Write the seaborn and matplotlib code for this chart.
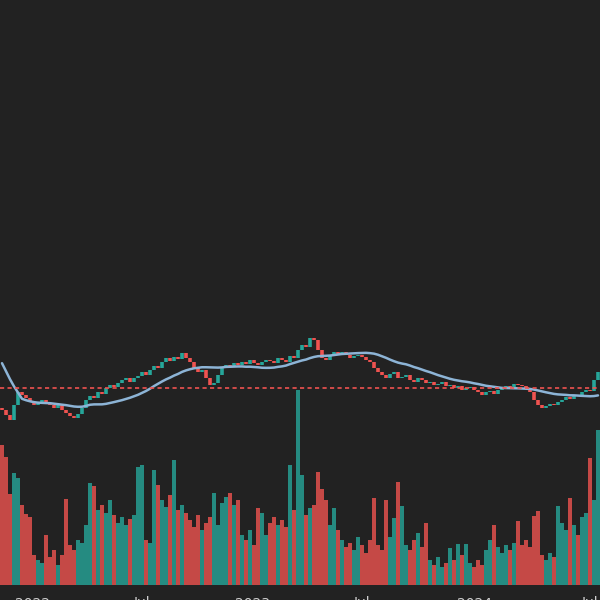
import matplotlib
matplotlib.use("Agg")
import matplotlib.pyplot as plt
import numpy as np
import pandas as pd
import seaborn as sns

# closes before the visible window (feed the moving average only)
PRE_CLOSE = [345, 340, 338, 332, 330, 230, 220, 212, 208, 205,
             200, 198, 202, 205, 200, 196, 198, 195, 192]

CLOSE = [
    190, 185, 180, 195, 208, 205, 202, 198, 195, 198,
    200, 197, 195, 192, 195, 190, 187, 184, 182, 186,
    192, 200, 204, 202, 208, 206, 212, 215, 213, 217,
    220, 222, 218, 222, 224, 228, 225, 230, 234, 232,
    238, 242, 239, 243, 241, 247, 242, 238, 232, 228,
    230, 222, 215, 217, 225, 232, 235, 233, 237, 235,
    238, 236, 240, 237, 235, 238, 240, 239, 237, 242,
    240, 238, 244, 242, 250, 255, 253, 262, 260, 250,
    242, 240, 245, 248, 245, 248, 245, 242, 244, 245,
    243, 240, 238, 232, 228, 225, 222, 226, 228, 222,
    223, 225, 220, 218, 222, 220, 217, 218, 215, 216,
    218, 214, 215, 212, 214, 210, 212, 213, 210, 208,
    205, 208, 209, 206, 210, 212, 214, 213, 216, 215,
    214, 212, 208, 200, 195, 192, 194, 196, 195, 198,
    200, 203, 201, 205, 204, 208, 210, 209, 220, 228,
]

VOLUME = [
    140, 128, 91, 112, 107, 80, 71, 68, 30, 25,
    22, 50, 28, 35, 20, 30, 86, 40, 35, 45,
    42, 60, 102, 99, 75, 80, 72, 85, 70, 62,
    68, 60, 66, 70, 118, 120, 45, 42, 115, 100,
    85, 78, 90, 125, 75, 80, 72, 65, 58, 70,
    55, 62, 68, 92, 60, 82, 88, 92, 80, 85,
    50, 45, 55, 40, 77, 72, 50, 62, 68, 60,
    65, 58, 120, 75, 195, 110, 70, 77, 80, 113,
    96, 85, 60, 77, 55, 45, 38, 42, 35, 48,
    40, 32, 45, 87, 40, 35, 85, 48, 67, 103,
    79, 40, 35, 45, 52, 38, 62, 25, 20, 28,
    18, 22, 37, 25, 41, 30, 41, 22, 18, 25,
    20, 35, 45, 60, 38, 32, 40, 35, 42, 64,
    40, 45, 38, 69, 74, 30, 25, 32, 28, 79,
    62, 55, 87, 60, 50, 68, 72, 127, 85, 155,
]

LEVEL = 212
TICK_LABELS = ["2022", "Jul", "2023", "Jul", "2024", "Jul"]
TICK_X = [32, 142, 252, 362, 475, 590]

UP = "#26a69a"
DOWN = "#ef5350"
BG = "#222222"

all_close = pd.Series(PRE_CLOSE + CLOSE, dtype=float)
ma = all_close.rolling(20).mean().iloc[len(PRE_CLOSE):].to_numpy()
close = np.array(CLOSE, dtype=float)
opens = all_close.shift(1).iloc[len(PRE_CLOSE):].to_numpy()
x = np.arange(len(CLOSE))
colors = [UP if c >= o else DOWN for o, c in zip(opens, close)]

df = pd.DataFrame({"x": x, "ma": ma})

sns.set_theme(style="dark")
fig = plt.figure(figsize=(6, 6), dpi=100, facecolor=BG)
ax2 = fig.add_axes([0, 15 / 600, 1, 585 / 600])
ax = fig.add_axes([0, 15 / 600, 1, 585 / 600], sharex=ax2)
ax2.set_facecolor(BG)
ax.patch.set_alpha(0)

# volume
ax2.bar(x, VOLUME, width=0.8, color=colors, alpha=0.8, linewidth=0)
ax2.set_ylim(0, 585)

# candles (bodies)
ax.vlines(x, opens, close, colors=colors, linewidth=2.6)
sns.lineplot(data=df, x="x", y="ma", ax=ax, color="#8db4d6", linewidth=1.8)
ax.axhline(LEVEL, color=DOWN, linestyle=(0, (2.5, 2)), linewidth=1.2)

ax.set_xlim(-0.5, len(CLOSE) - 0.5)
ax.set_ylim(15, 600)
for a in (ax, ax2):
    a.set_xticks([])
    a.set_yticks([])
    a.set_xlabel("")
    a.set_ylabel("")
    for s in a.spines.values():
        s.set_visible(False)

# axis labels sit mostly below the bottom edge, as in the cropped original
for lab, px in zip(TICK_LABELS, TICK_X):
    fig.text(px / 600, 3.5 / 600, lab, ha="center", va="top",
             color="#cfcfcf", fontsize=10)

fig.savefig("out.png", dpi=100, facecolor=BG)
